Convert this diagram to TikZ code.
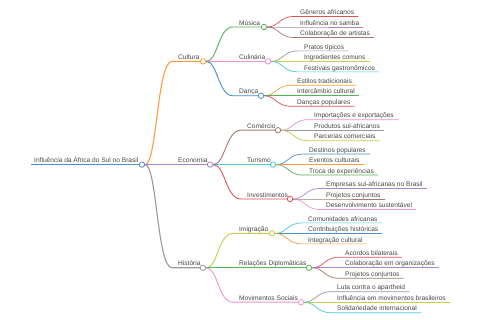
\documentclass[tikz,border=0pt]{standalone}
\usepackage{fontspec}
\setmainfont{Liberation Sans}
\usetikzlibrary{calc}
\definecolor{c0}{HTML}{4A8FC8}
\definecolor{c1}{HTML}{FF9A3D}
\definecolor{c2}{HTML}{56B356}
\definecolor{c3}{HTML}{DE5253}
\definecolor{c4}{HTML}{A685CA}
\definecolor{c5}{HTML}{A37A71}
\definecolor{c6}{HTML}{E993CE}
\definecolor{c7}{HTML}{999999}
\definecolor{c8}{HTML}{CACB4E}
\definecolor{c9}{HTML}{45CBD9}
\tikzset{
  lbl/.style={inner sep=0pt, font=\fontsize{6.6}{7}\selectfont, text=black!72},
  dot/.style={circle, draw=#1, fill=white, line width=0.8pt, minimum size=5.4pt, inner sep=0pt},
  lnk/.style={draw=#1, line width=1pt},
}
% internal node: name, parent, xs, y, xc, colour, text, line width
\newcommand\mkinner[8]{%
  \coordinate (#1-s) at (#3,#4);
  \coordinate (#1-m) at ($(#2)!0.5!(#1-s)$);
  \node[lbl, anchor=base west] (#1-t) at ($(#1-s)+(6,-1.8)$) {#7};
  \node[dot=#6] (#1) at (#5,#4) {};
  \draw[lnk=#6, line width=#8] (#2) .. controls (#1-m |- #2) and (#1-m |- #1-s) .. (#1-s) -- (#1);
}
% leaf: name, parent, xs, y, colour, text
\newcommand\mkleaf[6]{%
  \coordinate (#1-s) at (#3,#4);
  \coordinate (#1-m) at ($(#2)!0.5!(#1-s)$);
  \node[lbl, anchor=base west] (#1) at ($(#1-s)+(6,-1.8)$) {#6};
  \coordinate (#1-e) at ($(#1-s -| #1.east)+(4,0)$);
  \draw[lnk=#5, line width=0.7pt] (#2) .. controls (#1-m |- #2) and (#1-m |- #1-s) .. (#1-s) -- (#1-e);
}
\begin{document}
\begin{tikzpicture}[x=1pt, y=-1pt]
\fill[white] (0,0) rectangle (480,320);
\useasboundingbox (0,0) rectangle (480,320);

% root
\coordinate (root-s) at (31,164.6);
\node[dot=c0] (root) at (142,164.6) {};
\node[lbl, anchor=base west] (root-t) at ($(root-s)+(3,-1.8)$) {Influência da África do Sul no Brasil};
\draw[lnk=c0, line width=1.4pt] (root-s) -- (root);

% level 1
\mkinner{cul}{root}{172}{61.4}{203}{c1}{Cultura}{1.1pt}
\mkinner{eco}{root}{172}{164.6}{210}{c4}{Economia}{1.1pt}
\mkinner{his}{root}{172}{267.8}{203}{c7}{História}{1.1pt}

% level 2
\mkinner{mus}{cul}{233}{27}{264}{c2}{Música}{0.9pt}
\mkinner{culi}{cul}{233}{61.4}{268}{c6}{Culinária}{0.9pt}
\mkinner{dan}{cul}{233}{95.8}{261}{c0}{Dança}{0.9pt}
\mkinner{com}{eco}{241}{130.2}{278}{c5}{Comércio}{0.9pt}
\mkinner{tur}{eco}{241}{164.6}{273}{c9}{Turismo}{0.9pt}
\mkinner{inv}{eco}{241}{199}{290}{c3}{Investimentos}{0.9pt}
\mkinner{imi}{his}{233}{233.4}{272}{c8}{Imigração}{0.9pt}
\mkinner{rel}{his}{233}{267.8}{309}{c2}{Relações Diplomáticas}{0.9pt}
\mkinner{mov}{his}{233}{302.2}{301}{c6}{Movimentos Sociais}{0.9pt}

% leaves
\mkleaf{l1}{mus}{294}{16.5}{c3}{Gêneros africanos}
\mkleaf{l2}{mus}{294}{27}{c4}{Influência no samba}
\mkleaf{l3}{mus}{294}{37.5}{c5}{Colaboração de artistas}
\mkleaf{l4}{culi}{298}{50.9}{c7}{Pratos típicos}
\mkleaf{l5}{culi}{298}{61.4}{c8}{Ingredientes comuns}
\mkleaf{l6}{culi}{298}{71.9}{c9}{Festivais gastronômicos}
\mkleaf{l7}{dan}{291}{85.3}{c1}{Estilos tradicionais}
\mkleaf{l8}{dan}{291}{95.8}{c2}{Intercâmbio cultural}
\mkleaf{l9}{dan}{291}{106.3}{c3}{Danças populares}
\mkleaf{l10}{com}{308}{119.7}{c6}{Importações e exportações}
\mkleaf{l11}{com}{308}{130.2}{c7}{Produtos sul-africanos}
\mkleaf{l12}{com}{308}{140.7}{c8}{Parcerias comerciais}
\mkleaf{l13}{tur}{303}{154.1}{c0}{Destinos populares}
\mkleaf{l14}{tur}{303}{164.6}{c1}{Eventos culturais}
\mkleaf{l15}{tur}{303}{175.1}{c2}{Troca de experiências}
\mkleaf{l16}{inv}{320}{188.5}{c4}{Empresas sul-africanas no Brasil}
\mkleaf{l17}{inv}{320}{199}{c5}{Projetos conjuntos}
\mkleaf{l18}{inv}{320}{209.5}{c6}{Desenvolvimento sustentável}
\mkleaf{l19}{imi}{302}{222.9}{c9}{Comunidades africanas}
\mkleaf{l20}{imi}{302}{233.4}{c0}{Contribuições históricas}
\mkleaf{l21}{imi}{302}{243.9}{c1}{Integração cultural}
\mkleaf{l22}{rel}{339}{257.3}{c3}{Acordos bilaterais}
\mkleaf{l23}{rel}{339}{267.8}{c4}{Colaboração em organizações}
\mkleaf{l24}{rel}{339}{278.3}{c5}{Projetos conjuntos}
\mkleaf{l25}{mov}{331}{291.7}{c7}{Luta contra o apartheid}
\mkleaf{l26}{mov}{331}{302.2}{c8}{Influência em movimentos brasileiros}
\mkleaf{l27}{mov}{331}{312.7}{c9}{Solidariedade internacional}
\end{tikzpicture}
\end{document}
